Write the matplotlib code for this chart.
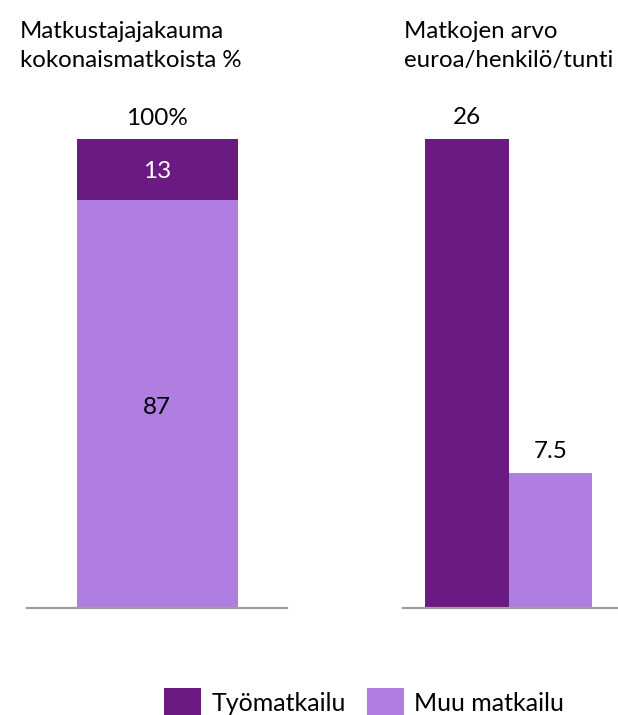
import matplotlib
matplotlib.use("Agg")
import matplotlib.pyplot as plt
from matplotlib.patches import Patch

plt.rcParams['font.family'] = ['Lato', 'DejaVu Sans']

# Share of all trips (%)
share_labels = ["Muu matkailu", "Työmatkailu"]
share_values = [87, 13]
share_total_label = "100%"

# Value of trips, euro / person / hour
value_categories = ["Työmatkailu", "Muu matkailu"]
value_values = [26, 7.5]
value_labels = ["26", "7.5"]

titles = ["Matkustajajakauma\nkokonaismatkoista %", "Matkojen arvo\neuroa/henkilö/tunti"]

DARK = "#6B1A82"
LIGHT = "#AF7EE0"
AXIS_GRAY = "#A0A0A0"
FS = 17.5
FS_TITLE = 17.3
FS_LEG = 18

W, H = 618, 715
fig = plt.figure(figsize=(W / 100, H / 100), dpi=100)

def px_axes(x0, x1, y_top, y_base):
    return fig.add_axes([x0 / W, 1 - y_base / H, (x1 - x0) / W, (y_base - y_top) / H])

def style(ax):
    for s in ("top", "left", "right"):
        ax.spines[s].set_visible(False)
    ax.spines["bottom"].set_color(AXIS_GRAY)
    ax.spines["bottom"].set_linewidth(1.6)
    ax.set_xticks([])
    ax.set_yticks([])

# Left panel: stacked share bar
ax1 = px_axes(27, 287, 139, 608)
style(ax1)
ax1.set_xlim(-0.5, 0.5)
ax1.set_ylim(0, sum(share_values))
bw = 161 / 260
ax1.bar(0, share_values[0], width=bw, color=LIGHT)
ax1.bar(0, share_values[1], width=bw, bottom=share_values[0], color=DARK)
ax1.text(0, share_values[0] / 2 - 0.8, f"{share_values[0]}", ha="center", va="center",
         fontsize=FS, color="black")
ax1.text(0, share_values[0] + share_values[1] / 2 - 0.5, f"{share_values[1]}", ha="center",
         va="center", fontsize=FS, color="white")
ax1.text(0, sum(share_values) + 2.2, share_total_label, ha="center", va="bottom",
         fontsize=FS, color="black", clip_on=False)

# Right panel: value per hour
ax2 = px_axes(403, 618, 139, 608)
style(ax2)
ax2.set_xlim(-0.5 - 22 / 83.5, 1.5 + 26 / 83.5)
ax2.set_ylim(0, max(value_values))
colors = [DARK, LIGHT]
for i, (v, lab) in enumerate(zip(value_values, value_labels)):
    ax2.bar(i, v, width=1.0, color=colors[i])
    ax2.text(i, v + 0.6, lab, ha="center", va="bottom", fontsize=FS,
             color="black", clip_on=False)

fig.text(20 / W, 1 - 67 / H, titles[0], ha="left", va="baseline", fontsize=FS_TITLE,
         linespacing=1.45)
fig.text(404 / W, 1 - 67 / H, titles[1], ha="left", va="baseline", fontsize=FS_TITLE,
         linespacing=1.45)

handles = [Patch(facecolor=DARK, label="Työmatkailu"),
           Patch(facecolor=LIGHT, label="Muu matkailu")]
fig.legend(handles=handles, loc="center", bbox_to_anchor=(364 / W, 1 - 703 / H),
           ncol=2, frameon=False, fontsize=FS_LEG, handlelength=1.5, handleheight=1.5,
           handletextpad=0.4, columnspacing=0.85, borderaxespad=0, borderpad=0)

fig.savefig("out.png", dpi=100)
